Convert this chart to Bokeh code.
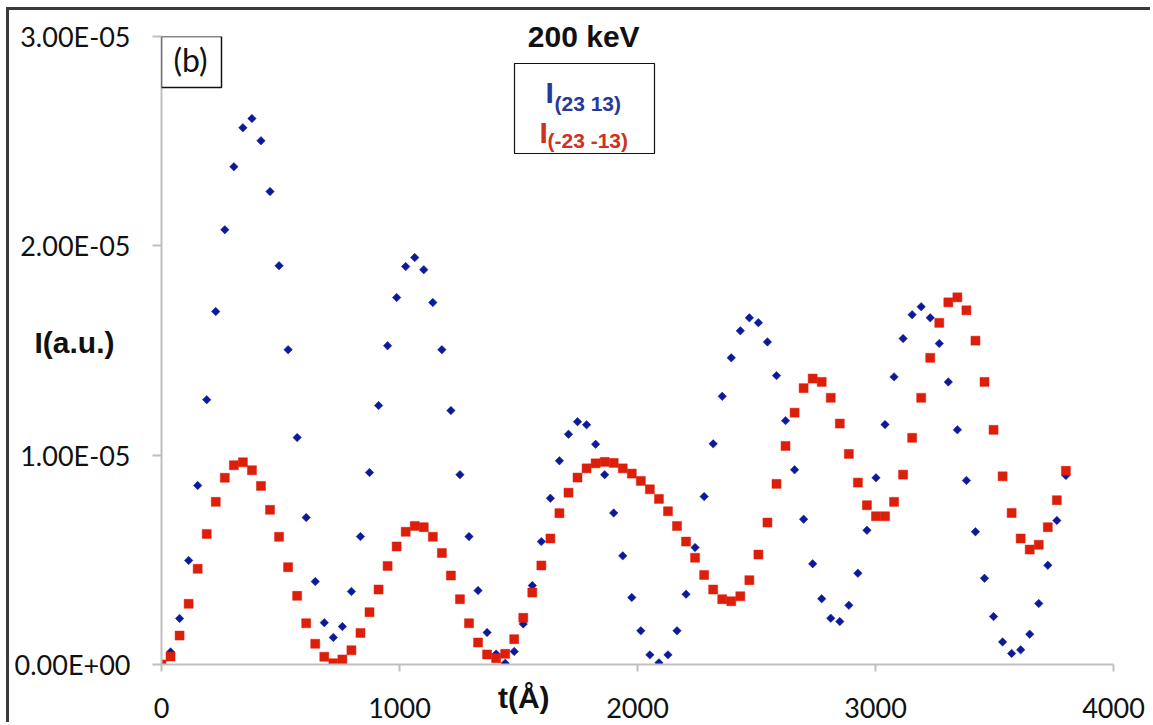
from bokeh.plotting import figure
from bokeh.models import (Range1d, FixedTicker, CustomJSTickFormatter, Label,
                          BoxAnnotation, ColumnDataSource, LinearAxis)
from bokeh.embed import file_html
from bokeh.resources import INLINE
import numpy as np

# ---------------- data ----------------
t_angstrom = [0, 38, 76, 114, 152, 190, 228, 266, 304, 342, 380, 418, 456, 494, 532,
              570, 608, 646, 684, 722, 760, 798, 836, 874, 912, 950, 988, 1026, 1064,
              1102, 1140, 1178, 1216, 1254, 1292, 1330, 1368, 1406, 1444, 1482, 1520,
              1558, 1596, 1634, 1672, 1710, 1748, 1786, 1824, 1862, 1900, 1938, 1976,
              2014, 2052, 2090, 2128, 2166, 2204, 2242, 2280, 2318, 2356, 2394, 2432,
              2470, 2508, 2546, 2584, 2622, 2660, 2698, 2736, 2774, 2812, 2850, 2888,
              2926, 2964, 3002, 3040, 3078, 3116, 3154, 3192, 3230, 3268, 3306, 3344,
              3382, 3420, 3458, 3496, 3534, 3572, 3610, 3648, 3686, 3724, 3762, 3800]

# intensities in units of 1e-5 (a.u.)
i_23_13 = [0.0, 0.06, 0.22, 0.497, 0.855, 1.265, 1.686, 2.077, 2.378, 2.564, 2.608,
           2.502, 2.259, 1.905, 1.504, 1.084, 0.702, 0.396, 0.200, 0.129, 0.181,
           0.349, 0.611, 0.917, 1.237, 1.523, 1.753, 1.901, 1.944, 1.886, 1.729,
           1.504, 1.213, 0.907, 0.611, 0.353, 0.153, 0.05, 0.006, 0.062, 0.194,
           0.377, 0.587, 0.794, 0.973, 1.100, 1.160, 1.145, 1.052, 0.907, 0.724,
           0.519, 0.320, 0.161, 0.046, 0.008, 0.046, 0.161, 0.336, 0.559, 0.802,
           1.054, 1.281, 1.465, 1.594, 1.656, 1.633, 1.541, 1.380, 1.165, 0.930,
           0.694, 0.481, 0.314, 0.221, 0.205, 0.283, 0.436, 0.641, 0.892, 1.146,
           1.374, 1.557, 1.671, 1.709, 1.656, 1.533, 1.350, 1.121, 0.879, 0.634,
           0.412, 0.229, 0.108, 0.053, 0.070, 0.145, 0.291, 0.474, 0.688, 0.903]

i_m23_m13 = [0.0, 0.038, 0.138, 0.290, 0.457, 0.624, 0.777, 0.892, 0.952, 0.966, 0.928,
             0.853, 0.739, 0.610, 0.465, 0.328, 0.197, 0.099, 0.037, 0.006, 0.024,
             0.068, 0.151, 0.250, 0.358, 0.471, 0.564, 0.634, 0.662, 0.656, 0.610,
             0.533, 0.425, 0.312, 0.197, 0.105, 0.048, 0.030, 0.051, 0.121, 0.223,
             0.344, 0.473, 0.602, 0.723, 0.821, 0.893, 0.937, 0.961, 0.968, 0.963,
             0.937, 0.912, 0.877, 0.837, 0.791, 0.732, 0.662, 0.587, 0.510, 0.428,
             0.358, 0.312, 0.302, 0.326, 0.403, 0.525, 0.678, 0.863, 1.044, 1.203,
             1.320, 1.366, 1.350, 1.274, 1.151, 1.006, 0.869, 0.761, 0.708, 0.708,
             0.777, 0.907, 1.083, 1.274, 1.465, 1.632, 1.730, 1.754, 1.692, 1.547,
             1.350, 1.121, 0.899, 0.724, 0.602, 0.549, 0.572, 0.656, 0.785, 0.925]

x_ticks = [0, 1000, 2000, 3000, 4000]
x_tick_labels = ["0", "1000", "2000", "3000", "4000"]
y_ticks = [0.0, 1e-05, 2e-05, 3e-05]
y_tick_labels = ["0.00E+00", "1.00E-05", "2.00E-05", "3.00E-05"]

title_text = "200 keV"
panel_tag = "(b)"
y_title = "I(a.u.)"
x_title = "t(Å)"

BLUE = "#0c1a99"
RED = "#dc1e0a"
BLUE_TXT = "#27389c"
RED_TXT = "#d1301c"

src = ColumnDataSource(dict(t=t_angstrom,
                            blue=np.array(i_23_13) * 1e-5,
                            red=np.array(i_m23_m13) * 1e-5))

# ---------------- figure ----------------
p = figure(width=1144, height=715, output_backend="svg", toolbar_location=None,
           x_range=Range1d(0, 4000), y_range=Range1d(0, 3e-5),
           min_border_left=152, min_border_right=40, min_border_top=26,
           min_border_bottom=61)
p.styles = {"margin-left": "6px", "margin-top": "7px",
            "border-left": "3px solid #3a3a3a", "border-top": "3px solid #3a3a3a"}
p.outline_line_color = None
p.xgrid.visible = False
p.ygrid.visible = False
p.background_fill_color = "white"
p.border_fill_color = "white"

AX = "#bfbfbf"
for ax in (p.xaxis[0], p.yaxis[0]):
    ax.axis_line_color = AX
    ax.axis_line_width = 2
    ax.major_tick_line_color = AX
    ax.major_tick_line_width = 2
    ax.major_tick_in = 0
    ax.minor_tick_line_color = None
    ax.major_label_text_font = "Lato"
    ax.major_label_text_color = "#111111"

FMT = ("const i = tvals.findIndex(v => Math.abs(v - tick) < eps); "
       "return i >= 0 ? tlabels[i] : '';")

p.xaxis.ticker = FixedTicker(ticks=x_ticks)
p.xaxis.formatter = CustomJSTickFormatter(
    args=dict(tvals=x_ticks, tlabels=x_tick_labels, eps=1e-9), code=FMT)
p.xaxis.major_tick_out = 7
p.xaxis.major_label_standoff = 26
p.xaxis.major_label_text_font_size = "27px"

p.yaxis.ticker = FixedTicker(ticks=y_ticks)
p.yaxis.formatter = CustomJSTickFormatter(
    args=dict(tvals=y_ticks, tlabels=y_tick_labels, eps=1e-12), code=FMT)
p.yaxis.major_tick_out = 9
p.yaxis.major_label_standoff = 22
p.yaxis.major_label_text_font_size = "27px"


# titles drawn as single-tick label axes (so they are not clipped to the frame)
def title_axis(text, pos, standoff, size):
    ax = LinearAxis(ticker=FixedTicker(ticks=[pos]),
                    formatter=CustomJSTickFormatter(args=dict(txt=text), code="return txt;"),
                    axis_line_color=None, major_tick_line_color=None,
                    minor_tick_line_color=None, major_tick_out=0, major_tick_in=0,
                    major_label_standoff=standoff,
                    major_label_text_font="Liberation Sans",
                    major_label_text_font_style="bold",
                    major_label_text_font_size=size,
                    major_label_text_color="#111111")
    return ax


p.add_layout(title_axis(y_title, 1.54e-5, -103, "30px"), "left")
p.add_layout(title_axis(x_title, 1522, -40, "30px"), "below")
p.add_layout(title_axis(title_text, 1774, -16, "30px"), "above")

# ---------------- data marks ----------------
p.scatter("t", "blue", source=src, marker="square", angle=np.pi / 4, size=6,
          fill_color=BLUE, line_color=BLUE, line_width=0.5)
p.scatter("t", "red", source=src, marker="square", size=9,
          fill_color=RED, line_color=RED, line_width=0.5)

# ---------------- annotations (screen units, relative to frame) ----------------
FL, FB = 161, 664  # page position of the frame's left / bottom edge


def sx(px):
    return px - FL


def sy(py):
    return FB - py


def base(py, size):
    # compensate the renderer's baseline offset for alphabetic text
    return sy(py - 0.35 * size)


# legend box
p.add_layout(BoxAnnotation(left=sx(514), right=sx(654), top=sy(63), bottom=sy(153),
                           left_units="screen", right_units="screen",
                           top_units="screen", bottom_units="screen",
                           fill_color="white", fill_alpha=1.0,
                           line_color="#111111", line_width=1.2, line_alpha=1.0))
legend_items = [
    ("I", "(23 13)", BLUE_TXT, 545, 102, 554, 110),
    ("I", "(-23 -13)", RED_TXT, 539, 142, 547, 147),
]
for main, sub, col, mx, mb, subx, subb in legend_items:
    p.add_layout(Label(x=sx(mx), y=base(mb, 30), x_units="screen", y_units="screen",
                       text=main, text_align="left", text_baseline="alphabetic",
                       text_font="Liberation Sans", text_font_style="bold",
                       text_font_size="30px", text_color=col))
    p.add_layout(Label(x=sx(subx), y=base(subb, 21), x_units="screen", y_units="screen",
                       text=sub, text_align="left", text_baseline="alphabetic",
                       text_font="Liberation Sans", text_font_style="bold",
                       text_font_size="21px", text_color=col))

# (b) tag
p.add_layout(BoxAnnotation(left=sx(161), right=sx(221), top=sy(36), bottom=sy(87),
                           left_units="screen", right_units="screen",
                           top_units="screen", bottom_units="screen",
                           fill_color="white", fill_alpha=1.0,
                           line_color="#111111", line_width=1.5, line_alpha=1.0))
p.add_layout(Label(x=sx(190), y=sy(59), x_units="screen", y_units="screen",
                   text=panel_tag, text_align="center", text_baseline="middle",
                   text_font="Lato", text_font_size="32px", text_color="#111111"))

open("out.html", "w").write(file_html(p, INLINE))
